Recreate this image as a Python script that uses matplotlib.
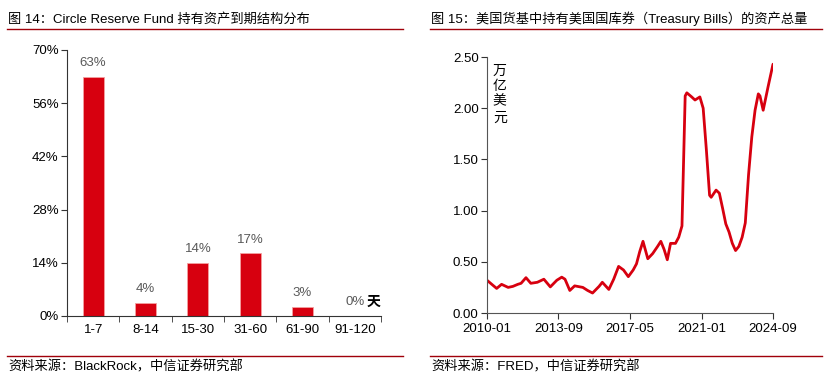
import pandas as pd
import matplotlib
matplotlib.use('Agg')
import matplotlib.pyplot as plt
from matplotlib.lines import Line2D

plt.rcParams['font.family'] = ['Liberation Sans', 'Noto Sans CJK SC', 'DejaVu Sans']

# 图14：到期结构
buckets = ['1-7', '8-14', '15-30', '31-60', '61-90', '91-120']
shares = [0.63, 0.035, 0.14, 0.165, 0.025, 0.0]
share_labels = ['63%', '4%', '14%', '17%', '3%', '0%']
pct_ticks = [0, 0.14, 0.28, 0.42, 0.56, 0.70]
pct_tick_labels = ['0%', '14%', '28%', '42%', '56%', '70%']

# 图15：美国货基持有国库券（万亿美元）
tb_dates = ['2010-01', '2010-04', '2010-07', '2010-10', '2011-02', '2011-05', '2011-08', '2011-10',
            '2012-01', '2012-04', '2012-08', '2012-12', '2013-04', '2013-08', '2013-11', '2014-01',
            '2014-04', '2014-07', '2014-12', '2015-03', '2015-06', '2015-10', '2015-12', '2016-04',
            '2016-07', '2016-10', '2017-01', '2017-04', '2017-07', '2017-09', '2017-11', '2018-01',
            '2018-04', '2018-07', '2018-10', '2018-12', '2019-02', '2019-04', '2019-06', '2019-09',
            '2019-11', '2020-01', '2020-02', '2020-03', '2020-04', '2020-07', '2020-09', '2020-12',
            '2021-02', '2021-04', '2021-06', '2021-07', '2021-10', '2021-12', '2022-02', '2022-04',
            '2022-06', '2022-08', '2022-10', '2022-12', '2023-02', '2023-04', '2023-06', '2023-08',
            '2023-10', '2023-12', '2024-01', '2024-03', '2024-06', '2024-09']
tb_values = [0.32, 0.28, 0.24, 0.28, 0.25, 0.26, 0.28, 0.29,
             0.345, 0.29, 0.30, 0.33, 0.255, 0.32, 0.35, 0.33,
             0.22, 0.265, 0.25, 0.22, 0.195, 0.26, 0.30, 0.23,
             0.33, 0.455, 0.42, 0.355, 0.42, 0.48, 0.60, 0.70,
             0.53, 0.58, 0.65, 0.70, 0.62, 0.52, 0.68, 0.68,
             0.74, 0.85, 1.50, 2.12, 2.15, 2.11, 2.08, 2.11,
             2.00, 1.60, 1.15, 1.13, 1.20, 1.17, 1.02, 0.87,
             0.79, 0.68, 0.61, 0.65, 0.74, 0.88, 1.35, 1.72,
             1.98, 2.14, 2.12, 1.98, 2.21, 2.43]
date_ticks = ['2010-01', '2013-09', '2017-05', '2021-01', '2024-09']
val_ticks = [0, 0.5, 1.0, 1.5, 2.0, 2.5]

red = '#D7000F'
dark_red = '#A0000A'
grey_txt = '#595959'
W, H = 824, 378

fig = plt.figure(figsize=(W / 100, H / 100), dpi=100)

# ---- 左图
ax1 = fig.add_axes([67 / W, 1 - 316 / H, 314 / W, 266 / H])
x = range(len(buckets))
ax1.bar(x, shares, width=0.4, color=red, edgecolor='#F4A0A0', linewidth=0.6)
for i, (v, lab) in enumerate(zip(shares, share_labels)):
    ax1.text(i, v + 0.02, lab, ha='center', va='bottom', fontsize=9.5, color=grey_txt)
ax1.text(5.36, 0.036, '天', ha='center', va='center', fontsize=10, fontweight='bold',
         family=['Noto Sans CJK SC'])
ax1.set_xlim(-0.5, 5.5)
ax1.set_ylim(0, 0.70)
ax1.set_yticks(pct_ticks)
ax1.set_yticklabels(pct_tick_labels, fontsize=9.5)
ax1.set_xticks(list(x))
ax1.set_xticklabels(buckets, fontsize=9.5)
ax1.set_xticks([i - 0.5 for i in range(len(buckets) + 1)], minor=True)
ax1.tick_params(axis='x', which='major', length=0, pad=6)
ax1.tick_params(axis='x', which='minor', length=4, direction='out', color='#333333')
ax1.tick_params(axis='y', length=4, direction='out', color='#333333', pad=2)
for s in ['top', 'right']:
    ax1.spines[s].set_visible(False)
for s in ['left', 'bottom']:
    ax1.spines[s].set_color('#333333')
    ax1.spines[s].set_linewidth(0.8)

# ---- 右图
ax2 = fig.add_axes([487 / W, 1 - 313 / H, 286 / W, 256 / H])
dates = pd.to_datetime(tb_dates)
ax2.plot(dates, tb_values, color=red, lw=2.0, solid_joinstyle='round', solid_capstyle='round')
ax2.set_xlim(pd.Timestamp('2010-01-01'), pd.Timestamp('2024-09-01'))
ax2.set_ylim(0, 2.5)
ax2.set_yticks(val_ticks)
ax2.set_yticklabels([f'{v:.2f}' for v in val_ticks], fontsize=9.5)
ax2.set_xticks(pd.to_datetime(date_ticks))
ax2.set_xticklabels(date_ticks, fontsize=9.5)
ax2.tick_params(axis='x', length=4, direction='out', color='#333333', pad=3)
ax2.tick_params(axis='y', length=4, direction='out', color='#333333', pad=2)
for s in ['top', 'right']:
    ax2.spines[s].set_visible(False)
for s in ['left', 'bottom']:
    ax2.spines[s].set_color('#555555')
    ax2.spines[s].set_linewidth(0.8)
ax2.text(0.045, 0.975, '万\n亿\n美\n元', transform=ax2.transAxes, ha='center', va='top',
         fontsize=10, linespacing=1.15, family=['Noto Sans CJK SC'])

# ---- 标题与来源
fig.text(8 / W, 1 - 19 / H, '图 14：Circle Reserve Fund 持有资产到期结构分布', fontsize=9.5,
         va='center', ha='left')
fig.text(431 / W, 1 - 19 / H, '图 15：美国货基中持有美国国库券（Treasury Bills）的资产总量', fontsize=9.5,
         va='center', ha='left')
fig.text(8 / W, 1 - 367 / H, '资料来源：BlackRock，中信证券研究部', fontsize=9.5, va='center', ha='left')
fig.text(431 / W, 1 - 367 / H, '资料来源：FRED，中信证券研究部', fontsize=9.5, va='center', ha='left')
for x0, x1 in [(7, 403), (430, 822)]:
    fig.add_artist(Line2D([x0 / W, x1 / W], [1 - 29 / H] * 2, color=dark_red, lw=1.0))
    fig.add_artist(Line2D([x0 / W, x1 / W], [1 - 356 / H] * 2, color=dark_red, lw=1.0))

fig.savefig('out.png', dpi=100)
